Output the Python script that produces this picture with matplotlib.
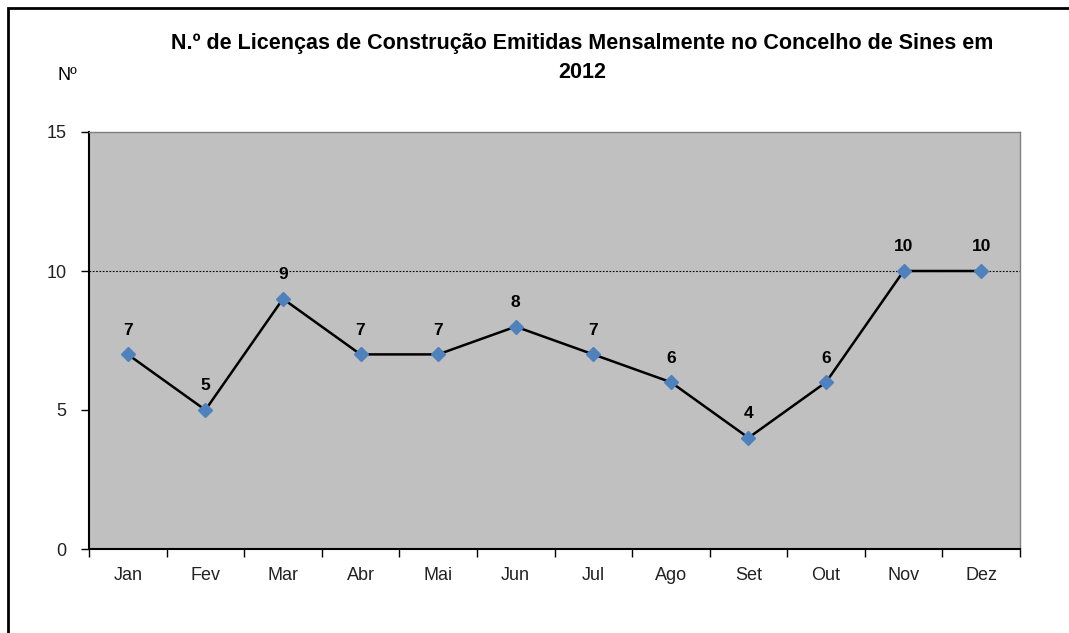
import matplotlib.pyplot as plt
from matplotlib.patches import Rectangle

months = ["Jan", "Fev", "Mar", "Abr", "Mai", "Jun", "Jul", "Ago", "Set", "Out", "Nov", "Dez"]
licencas = [7, 5, 9, 7, 7, 8, 7, 6, 4, 6, 10, 10]
y_ticks = [0, 5, 10, 15]

plt.rcParams['font.family'] = ['Liberation Sans', 'DejaVu Sans']

fig = plt.figure(figsize=(10.69, 6.33), dpi=100)
W, H = 1069, 633

# outer chart border (cropped at right and bottom in the reference)
fig.patches.append(Rectangle((8 / W, -0.05), 1.1, 1 - 8 / H + 0.05, transform=fig.transFigure,
                             fill=False, edgecolor='black', linewidth=2))

ax = fig.add_axes([89 / W, 1 - 549 / H, (1020 - 89) / W, (549 - 132) / H])
ax.set_facecolor('#C0C0C0')

x = list(range(len(months)))
ax.plot(x, licencas, color='black', linewidth=1.8, zorder=3)
ax.plot(x, licencas, linestyle='none', marker='D', markersize=7.5,
        color='#4F81BD', zorder=4)

for xi, v in zip(x, licencas):
    ax.annotate(str(v), (xi, v), xytext=(0, 12), textcoords='offset points',
                ha='center', va='bottom', fontsize=12.5, fontweight='bold', zorder=5)

ax.axhline(10, color='black', linestyle=(0, (1.5, 1.5)), linewidth=0.8, zorder=2)

ax.set_xlim(-0.5, len(months) - 0.5)
ax.set_ylim(0, 15)
ax.set_yticks(y_ticks)
ax.set_yticklabels([str(t) for t in y_ticks], fontsize=13, color='#222222')
ax.set_xticks(x)
ax.set_xticklabels(months, fontsize=13, color='#222222')
ax.set_xticks([i - 0.5 for i in range(len(months) + 1)], minor=True)
ax.tick_params(axis='x', which='major', length=0, pad=13)
ax.tick_params(axis='x', which='minor', length=6, width=1, direction='out')
ax.tick_params(axis='y', length=6, width=1, direction='out', pad=10)

for s in ['top', 'right']:
    ax.spines[s].set_color('#808080')
    ax.spines[s].set_linewidth(1)
for s in ['left', 'bottom']:
    ax.spines[s].set_color('black')
    ax.spines[s].set_linewidth(1.5)

fig.text(582 / W, 1 - 43 / H, "N.º de Licenças de Construção Emitidas Mensalmente no Concelho de Sines em",
         ha='center', va='center', fontsize=15.5, fontweight='bold')
fig.text(582 / W, 1 - 73 / H, "2012", ha='center', va='center', fontsize=15.5, fontweight='bold')
fig.text(67 / W, 1 - 76 / H, "Nº", ha='center', va='center', fontsize=13)

plt.savefig("out.png", dpi=100)
